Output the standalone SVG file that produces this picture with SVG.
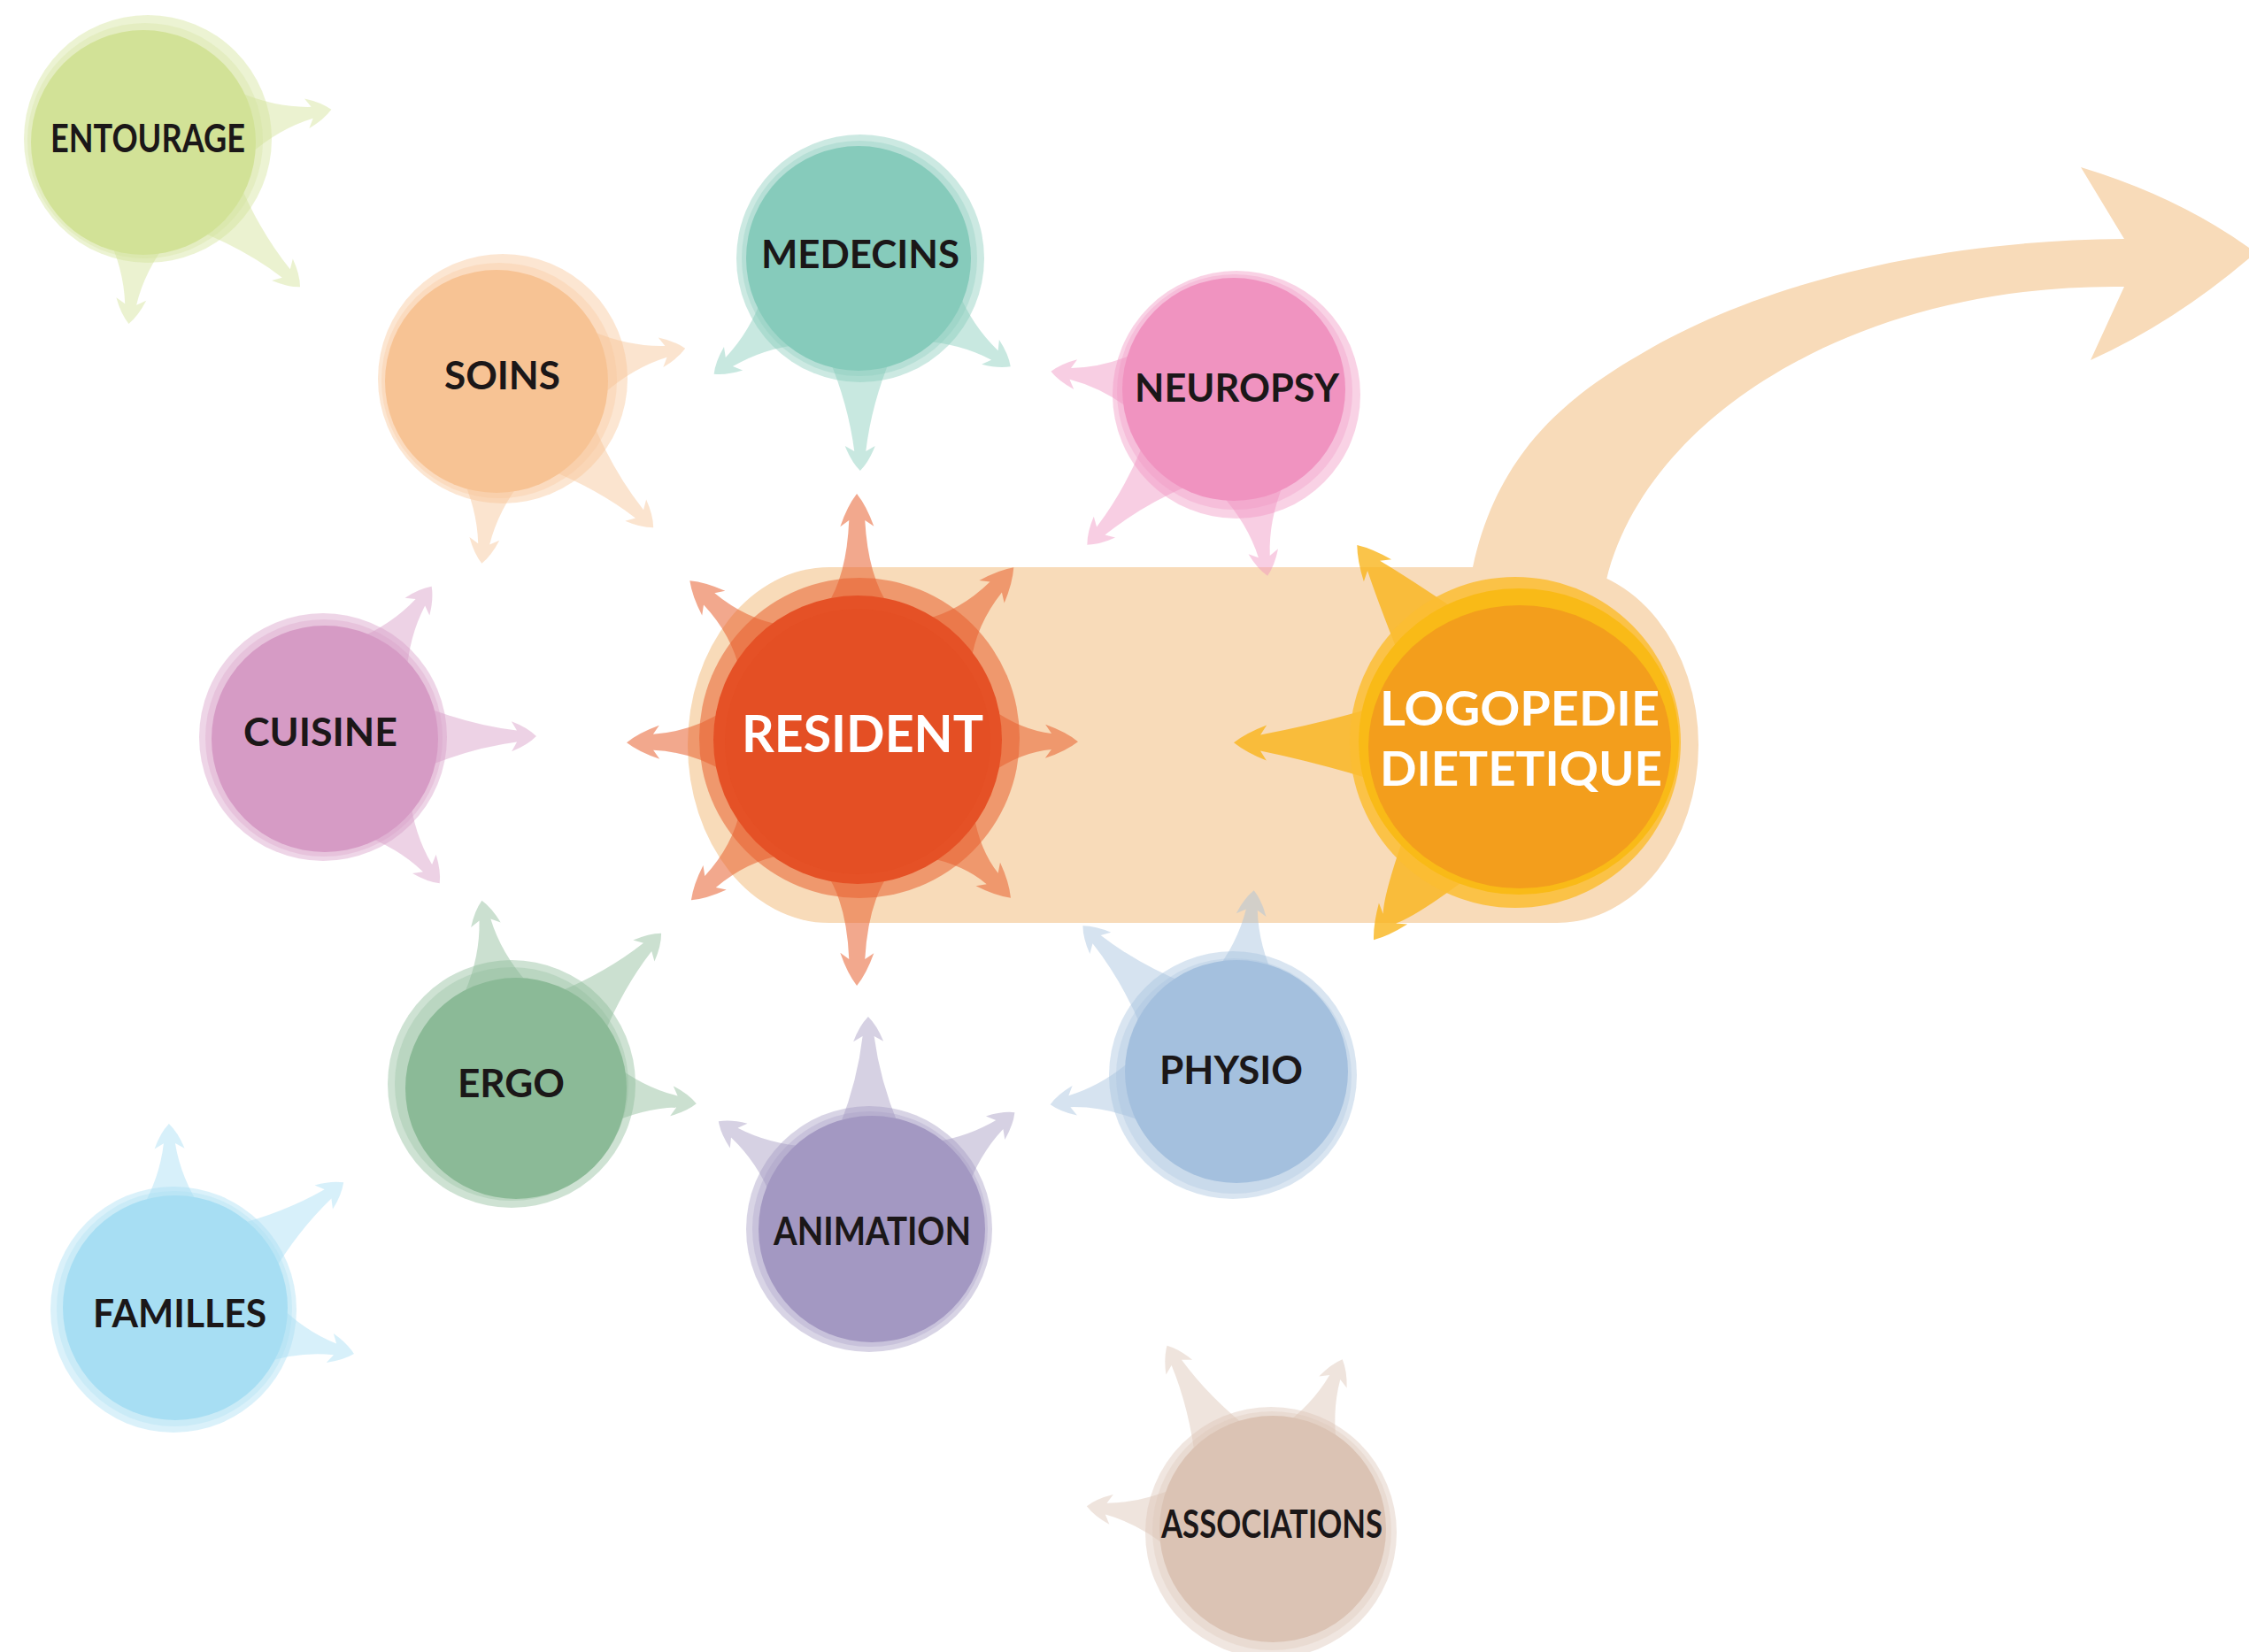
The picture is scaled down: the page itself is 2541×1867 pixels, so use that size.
<svg xmlns="http://www.w3.org/2000/svg" xmlns:xlink="http://www.w3.org/1999/xlink" width="2541" height="1867" viewBox="0 0 2541 1867">
<style>
.ring{fill-opacity:.42}
.mid{fill-opacity:.3}
.arr{fill-opacity:.45}
.lbl{font-family:Lato,"Liberation Sans",sans-serif;font-weight:700;font-size:43px;fill:#1b1718}
.wht{font-family:Lato,"Liberation Sans",sans-serif;font-weight:700;fill:#ffffff}
</style>
<defs>
<path id="as" d="M110,-36 Q148,-12 188,-6.5 L182,-17 Q200,-10 210,0 Q200,10 182,17 L188,6.5 Q148,12 110,36 Z"/>
<path id="al" d="M110,-36 Q165,-13 218,-6.5 L212,-17 Q230,-10 240,0 Q230,10 212,17 L218,6.5 Q165,13 110,36 Z"/>
<path id="r278" d="M150,-36 Q185,-12 248,-9 L241,-19 Q264,-11 278,0 Q264,11 241,19 L248,9 Q185,12 150,36 Z"/>
<path id="r262" d="M150,-36 Q185,-12 232,-9 L225,-19 Q248,-11 262,0 Q248,11 225,19 L232,9 Q185,12 150,36 Z"/>
<path id="r248" d="M150,-36 Q185,-12 218,-9 L211,-19 Q234,-11 248,0 Q234,11 211,19 L218,9 Q185,12 150,36 Z"/>
</defs>

<g id="background">
<rect x="777" y="641" width="1142" height="402" rx="160" ry="201" fill="#f8dbb9"/>
<path d="M1664,700 L1664,641 C1690,520 1760,455 1849,403 C1960,335 2150,272 2400,270 L2351,189 Q2460,222 2541,280 L2541,292 Q2455,365 2362,407 L2400,324 C2100,320 1860,470 1815,655 L1815,700 Z" fill="#f8dbb9"/>
</g>

<g id="connectors">
<!-- ENTOURAGE -->
<use href="#as" transform="translate(167,157) rotate(-9.1)" fill="#d2e297" class="arr"/>
<use href="#al" transform="translate(167,157) rotate(44.2)" fill="#d2e297" class="arr"/>
<use href="#as" transform="translate(167,157) rotate(95.9)" fill="#d2e297" class="arr"/>
<!-- SOINS -->
<use href="#as" transform="translate(567,428) rotate(-9.4)" fill="#f7c394" class="arr"/>
<use href="#al" transform="translate(567,428) rotate(44.5)" fill="#f7c394" class="arr"/>
<use href="#as" transform="translate(567,428) rotate(96.2)" fill="#f7c394" class="arr"/>
<!-- MEDECINS -->
<use href="#as" transform="translate(971,292) rotate(141.5)" fill="#86cbbb" class="arr"/>
<use href="#as" transform="translate(971,292) rotate(35.6)" fill="#86cbbb" class="arr"/>
<use href="#al" transform="translate(971,292) rotate(89.8)" fill="#86cbbb" class="arr"/>
<!-- NEUROPSY -->
<use href="#as" transform="translate(1396,444) rotate(186.6)" fill="#f093c0" class="arr"/>
<use href="#al" transform="translate(1396,444) rotate(134.3)" fill="#f093c0" class="arr"/>
<use href="#as" transform="translate(1396,444) rotate(80.1)" fill="#f093c0" class="arr"/>
<!-- CUISINE -->
<use href="#as" transform="translate(366,834) rotate(-54.6)" fill="#d69bc5" class="arr"/>
<use href="#al" transform="translate(366,834) rotate(-0.5)" fill="#d69bc5" class="arr"/>
<use href="#as" transform="translate(366,834) rotate(51.5)" fill="#d69bc5" class="arr"/>
<!-- ERGO -->
<use href="#as" transform="translate(578,1225) rotate(-99.2)" fill="#8bba97" class="arr"/>
<use href="#al" transform="translate(578,1225) rotate(-45.2)" fill="#8bba97" class="arr"/>
<use href="#as" transform="translate(578,1225) rotate(6.1)" fill="#8bba97" class="arr"/>
<!-- ANIMATION -->
<use href="#al" transform="translate(983,1389) rotate(-90.5)" fill="#a398c2" class="arr"/>
<use href="#as" transform="translate(983,1389) rotate(-144.6)" fill="#a398c2" class="arr"/>
<use href="#as" transform="translate(983,1389) rotate(-38.9)" fill="#a398c2" class="arr"/>
<!-- PHYSIO -->
<use href="#as" transform="translate(1394,1215) rotate(-83.8)" fill="#a4c0de" class="arr"/>
<use href="#al" transform="translate(1394,1215) rotate(-135.3)" fill="#a4c0de" class="arr"/>
<use href="#as" transform="translate(1394,1215) rotate(170.9)" fill="#a4c0de" class="arr"/>
<!-- FAMILLES -->
<use href="#as" transform="translate(196,1480) rotate(-91.4)" fill="#a7def3" class="arr"/>
<use href="#al" transform="translate(196,1480) rotate(-36.8)" fill="#a7def3" class="arr"/>
<use href="#as" transform="translate(196,1480) rotate(13.8)" fill="#a7def3" class="arr"/>
<!-- ASSOCIATIONS -->
<use href="#al" transform="translate(1436,1730) rotate(-119.3)" fill="#dbc3b4" class="arr"/>
<use href="#as" transform="translate(1436,1730) rotate(-67.4)" fill="#dbc3b4" class="arr"/>
<use href="#as" transform="translate(1436,1730) rotate(187.6)" fill="#dbc3b4" class="arr"/>
<!-- RESIDENT -->
<g fill="#e8602f" fill-opacity=".55">
<use href="#r278" transform="translate(970,836) rotate(-90.4)"/>
<use href="#r278" transform="translate(970,836) rotate(90.4)"/>
<use href="#r262" transform="translate(970,836) rotate(179.3)"/>
<use href="#r248" transform="translate(970,836) rotate(0.5)"/>
<use href="#r262" transform="translate(970,836) rotate(-136.7)"/>
<use href="#r262" transform="translate(970,836) rotate(-48)"/>
<use href="#r262" transform="translate(970,836) rotate(136.2)"/>
<use href="#r248" transform="translate(970,836) rotate(46.1)"/>
</g>
<!-- LOGOPEDIE -->
<g fill="#f9b417" fill-opacity=".78">
<path transform="translate(1715,842) rotate(-128.8)" d="M160,-42 Q225,-22 260,-9 L253,-20 Q276,-11 290,0 Q276,11 253,20 L260,9 Q225,22 160,42 Z"/>
<path transform="translate(1715,842) rotate(180.5)" d="M160,-42 Q225,-22 291,-9 L284,-20 Q307,-11 321,0 Q307,11 284,20 L291,9 Q225,22 160,42 Z"/>
<path transform="translate(1715,842) rotate(126.5)" d="M160,-42 Q225,-22 244,-9 L237,-20 Q260,-11 274,0 Q260,11 237,20 L244,9 Q225,22 160,42 Z"/>
</g>
</g>

<g id="entourage">
<circle cx="167" cy="157" r="140" fill="#d2e297" class="ring"/>
<circle cx="164" cy="159" r="133" fill="#d2e297" class="mid"/>
<circle cx="162" cy="161" r="127" fill="#d2e297"/>
<text x="57" y="172" textLength="220" lengthAdjust="spacingAndGlyphs" class="lbl">ENTOURAGE</text>
</g>
<g id="soins">
<circle cx="568" cy="428" r="141" fill="#f7c394" class="ring"/>
<circle cx="564" cy="430" r="133" fill="#f7c394" class="mid"/>
<circle cx="561" cy="431" r="126" fill="#f7c394"/>
<text x="502" y="440" textLength="131" lengthAdjust="spacingAndGlyphs" class="lbl">SOINS</text>
</g>
<g id="medecins">
<circle cx="972" cy="292" r="140" fill="#86cbbb" class="ring"/>
<circle cx="971" cy="292" r="133" fill="#86cbbb" class="mid"/>
<circle cx="970" cy="292" r="127" fill="#86cbbb"/>
<text x="860" y="303" textLength="224" lengthAdjust="spacingAndGlyphs" class="lbl">MEDECINS</text>
</g>
<g id="neuropsy">
<circle cx="1397" cy="446" r="140" fill="#f093c0" class="ring"/>
<circle cx="1395" cy="443" r="133" fill="#f093c0" class="mid"/>
<circle cx="1394" cy="440" r="126" fill="#f093c0"/>
<text x="1282" y="454" textLength="231" lengthAdjust="spacingAndGlyphs" class="lbl">NEUROPSY</text>
</g>
<g id="cuisine">
<circle cx="365" cy="833" r="140" fill="#d69bc5" class="ring"/>
<circle cx="366" cy="834" r="134" fill="#d69bc5" class="mid"/>
<circle cx="367" cy="835" r="128" fill="#d69bc5"/>
<text x="275" y="843" textLength="174" lengthAdjust="spacingAndGlyphs" class="lbl">CUISINE</text>
</g>
<g id="ergo">
<circle cx="578" cy="1225" r="140" fill="#8bba97" class="ring"/>
<circle cx="578" cy="1225" r="132" fill="#8bba97" class="mid"/>
<circle cx="583" cy="1230" r="125" fill="#8bba97"/>
<text x="517" y="1240" textLength="121" lengthAdjust="spacingAndGlyphs" class="lbl">ERGO</text>
</g>
<g id="animation">
<circle cx="982" cy="1389" r="139" fill="#a398c2" class="ring"/>
<circle cx="983" cy="1389" r="133" fill="#a398c2" class="mid"/>
<circle cx="985" cy="1389" r="128" fill="#a398c2"/>
<text x="874" y="1407" textLength="223" lengthAdjust="spacingAndGlyphs" class="lbl">ANIMATION</text>
</g>
<g id="physio">
<circle cx="1393" cy="1215" r="140" fill="#a4c0de" class="ring"/>
<circle cx="1394" cy="1216" r="133" fill="#a4c0de" class="mid"/>
<circle cx="1397" cy="1211" r="126" fill="#a4c0de"/>
<text x="1310" y="1225" textLength="162" lengthAdjust="spacingAndGlyphs" class="lbl">PHYSIO</text>
</g>
<g id="familles">
<circle cx="196" cy="1480" r="139" fill="#a7def3" class="ring"/>
<circle cx="197" cy="1479" r="133" fill="#a7def3" class="mid"/>
<circle cx="198" cy="1478" r="127" fill="#a7def3"/>
<text x="105" y="1500" textLength="196" lengthAdjust="spacingAndGlyphs" class="lbl">FAMILLES</text>
</g>
<g id="associations">
<circle cx="1436" cy="1732" r="142" fill="#dbc3b4" class="ring"/>
<circle cx="1437" cy="1730" r="135" fill="#dbc3b4" class="mid"/>
<circle cx="1438" cy="1728" r="128" fill="#dbc3b4"/>
<text x="1312" y="1738" textLength="250" lengthAdjust="spacingAndGlyphs" class="lbl">ASSOCIATIONS</text>
</g>
<g id="resident">
<circle cx="971" cy="834" r="181" fill="#e8602f" fill-opacity=".55"/>
<circle cx="969" cy="836" r="163" fill="#e55126"/>
<circle cx="969" cy="838" r="150" fill="#e44f24"/>
<text x="838" y="850" textLength="273" lengthAdjust="spacingAndGlyphs" class="wht" font-size="58">RESIDENT</text>
</g>
<g id="logopedie">
<circle cx="1712" cy="839" r="187" fill="#fbbd33" fill-opacity=".85"/>
<ellipse cx="1716" cy="838" rx="181" ry="173" fill="#f9ba17"/>
<ellipse cx="1717" cy="844" rx="171" ry="160" fill="#f39e1c"/>
<text x="1559" y="820" textLength="316" lengthAdjust="spacingAndGlyphs" class="wht" font-size="53">LOGOPEDIE</text>
<text x="1559" y="888" textLength="319" lengthAdjust="spacingAndGlyphs" class="wht" font-size="53">DIETETIQUE</text>
</g>
</svg>
